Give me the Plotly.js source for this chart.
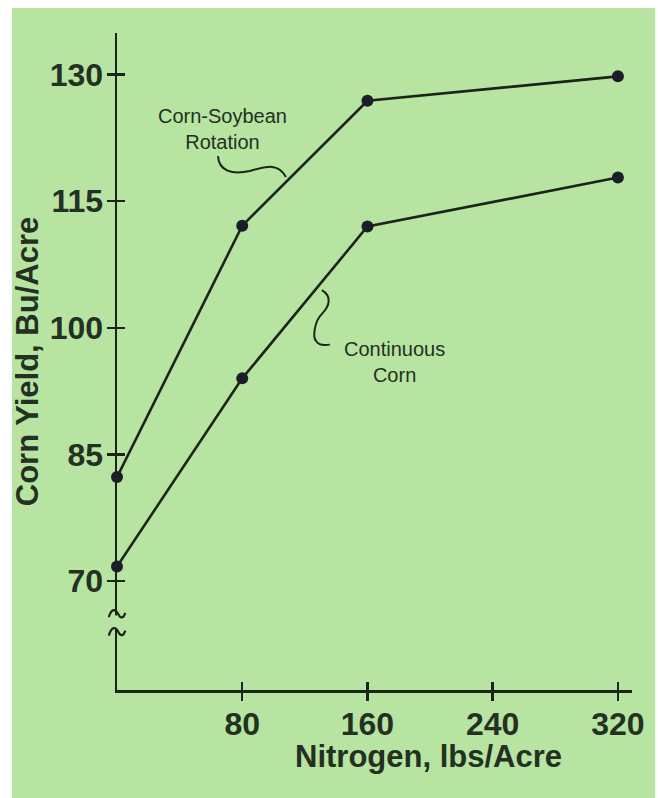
<!DOCTYPE html>
<html>
<head>
<meta charset="utf-8">
<script src="https://cdn.plot.ly/plotly-3.0.1.min.js"></script>
<style>
  html, body { margin: 0; padding: 0; background: #ffffff; }
  #chart { width: 658px; height: 798px; }
</style>
</head>
<body>
<div id="chart"></div>
<script>
// Nitrogen rate, lbs/acre
const nitrogen = [0, 80, 160, 320];
// Corn yield, Bu/acre
const rotationYield = [82.3, 112.1, 126.9, 129.8];
const continuousYield = [71.7, 94.0, 112.0, 117.8];
const xTicks = [80, 160, 240, 320];
const yTicks = [70, 85, 100, 115, 130];
const seriesNames = ['Corn-Soybean Rotation', 'Continuous Corn'];

const GREEN = '#b7e4a1';
const INK = '#1c2419';
const TXT = '#233022';

const lineStyle = { color: INK, width: 2.6 };
const markerStyle = { color: '#1b1d2a', size: 12 };

const traces = [
  { x: nitrogen, y: rotationYield, name: seriesNames[0], mode: 'lines+markers',
    line: lineStyle, marker: markerStyle, cliponaxis: false, xaxis: 'x', yaxis: 'y' },
  { x: nitrogen, y: continuousYield, name: seriesNames[1], mode: 'lines+markers',
    line: lineStyle, marker: markerStyle, cliponaxis: false, xaxis: 'x', yaxis: 'y' },
  // empty helper trace so the overlaid axes (inner half of the crossing ticks) are drawn
  { x: [], y: [], mode: 'markers', xaxis: 'x2', yaxis: 'y2', hoverinfo: 'skip', showlegend: false }
];

const tickFont = { family: 'Liberation Sans, Arial, sans-serif', size: 32, color: TXT, weight: 'bold' };
const titleFont = { family: 'Liberation Sans, Arial, sans-serif', size: 31, color: TXT, weight: 'bold' };

const xRange = [0, 329];
const yRange = [57.06, 134.94];

const layout = {
  width: 658, height: 798,
  margin: { l: 117, r: 26, t: 33, b: 108 },
  paper_bgcolor: '#ffffff',
  plot_bgcolor: 'rgba(0,0,0,0)',
  showlegend: false,
  xaxis: {
    range: xRange, tickvals: xTicks, ticktext: xTicks.map(String),
    showgrid: false, zeroline: false, showline: true, linecolor: INK, linewidth: 2.5,
    ticks: 'outside', ticklen: 8, tickwidth: 2.5, tickcolor: INK,
    tickfont: tickFont, ticklabelstandoff: -4
  },
  xaxis2: {
    range: xRange, tickvals: xTicks, overlaying: 'x', anchor: 'y2', side: 'bottom',
    showgrid: false, zeroline: false, showline: false, showticklabels: false,
    ticks: 'inside', ticklen: 8, tickwidth: 2.5, tickcolor: INK
  },
  yaxis: {
    range: yRange, tickvals: yTicks, ticktext: yTicks.map(String),
    showgrid: false, zeroline: false, showline: true, linecolor: INK, linewidth: 2.5,
    ticks: 'outside', ticklen: 8, tickwidth: 2.5, tickcolor: INK,
    tickfont: tickFont, ticklabelstandoff: -3,
    title: { text: 'Corn Yield, Bu/Acre', font: titleFont, standoff: 2 }
  },
  yaxis2: {
    range: yRange, tickvals: yTicks, overlaying: 'y', anchor: 'x2', side: 'left',
    showgrid: false, zeroline: false, showline: false, showticklabels: false,
    ticks: 'inside', ticklen: 8, tickwidth: 2.5, tickcolor: INK
  },
  shapes: [
    // green page background
    { type: 'rect', xref: 'paper', yref: 'paper', x0: -0.204, x1: 1.045, y0: -0.165, y1: 1.038,
      fillcolor: GREEN, line: { width: 0 }, layer: 'below' },
    // axis break gap
    { type: 'rect', xref: 'paper', yref: 'y', x0: -0.012, x1: 0.012, y0: 64.4, y1: 65.9,
      fillcolor: GREEN, line: { width: 0 }, layer: 'above' },
    // axis break squiggles
    { type: 'path', xref: 'paper', yref: 'y',
      path: 'M -0.016,65.7 C -0.010,66.9 -0.002,66.6 0.002,66.1 C 0.006,65.6 0.012,65.4 0.016,66.2',
      line: { color: INK, width: 2.2 }, layer: 'above' },
    { type: 'path', xref: 'paper', yref: 'y',
      path: 'M -0.016,63.5 C -0.010,64.7 -0.002,64.5 0.002,64.0 C 0.006,63.5 0.012,63.3 0.016,64.1',
      line: { color: INK, width: 2.2 }, layer: 'above' },
    // callout for rotation label
    { type: 'path', xref: 'x', yref: 'y',
      path: 'M 64.5,120.35 C 65.1,118.59 73.4,118.12 84.9,118.59 C 94.5,119.06 102.8,119.65 107.9,117.88',
      line: { color: INK, width: 2 }, layer: 'above' },
    // callout for continuous label
    { type: 'path', xref: 'x', yref: 'y',
      path: 'M 130.9,104.47 C 137.3,103.76 136.0,102.59 130.9,101.65 C 125.8,100.71 125.1,98.82 127.1,98.47 C 128.3,98.0 132.2,97.88 136.0,98.0',
      line: { color: INK, width: 2 }, layer: 'above' }
  ],
  annotations: [
    { x: 67.7, y: 123.6, xref: 'x', yref: 'y', text: 'Corn-Soybean<br>Rotation', showarrow: false,
      font: { family: 'Liberation Sans, Arial, sans-serif', size: 20, color: TXT }, align: 'center' },
    { x: 177.5, y: 96.0, xref: 'x', yref: 'y', text: 'Continuous<br>Corn', showarrow: false,
      font: { family: 'Liberation Sans, Arial, sans-serif', size: 20, color: TXT }, align: 'center' },
    // x-axis title (offset to the right as in the original)
    { x: 0.604, y: -0.1005, xref: 'paper', yref: 'paper', xanchor: 'center', yanchor: 'middle',
      text: 'Nitrogen, lbs/Acre', showarrow: false, font: titleFont }
  ]
};

Plotly.newPlot('chart', traces, layout, { displayModeBar: false, staticPlot: true });
</script>
</body>
</html>
